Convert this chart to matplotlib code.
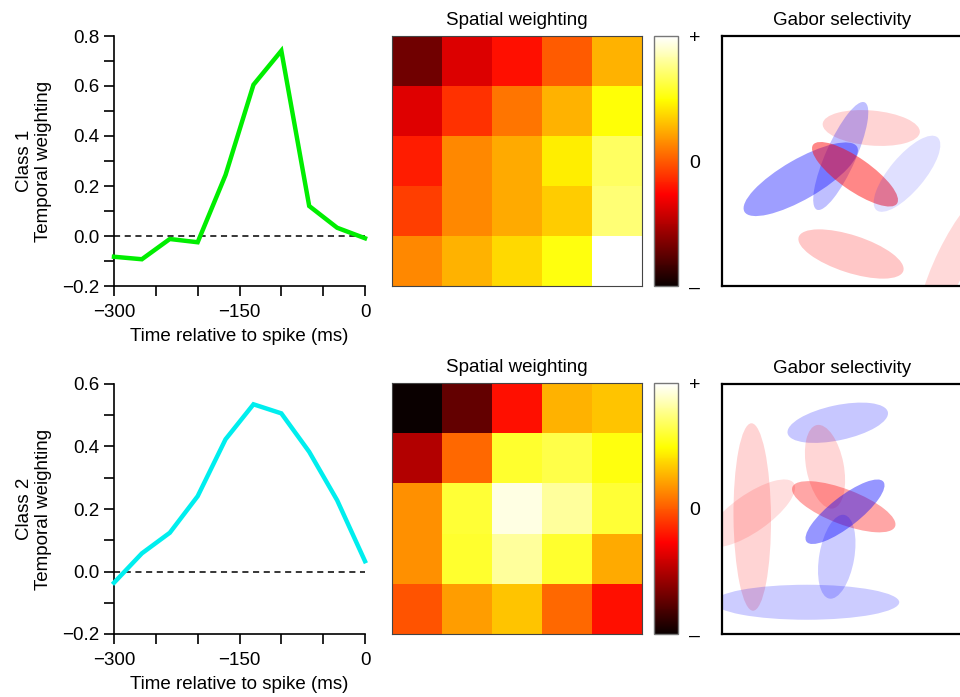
import numpy as np
import matplotlib
matplotlib.use("Agg")
import matplotlib.pyplot as plt
from matplotlib.patches import Ellipse
from matplotlib.ticker import MultipleLocator

plt.rcParams['font.family'] = ['Liberation Sans', 'DejaVu Sans']

# temporal weighting (time relative to spike, ms)
times = [-300, -266.7, -233.3, -200, -166.7, -133.3, -100, -66.7, -33.3, 0]
class1_temporal = [-0.083, -0.093, -0.012, -0.025, 0.244, 0.605, 0.741, 0.120, 0.033, -0.009]
class2_temporal = [-0.036, 0.058, 0.124, 0.241, 0.423, 0.535, 0.506, 0.383, 0.228, 0.033]

# spatial weighting, 5x5, scaled to [-1, 1]
class1_spatial = [
    [-0.69, -0.37, -0.22, 0.00, 0.26],
    [-0.36, -0.12, 0.08, 0.26, 0.50],
    [-0.18, 0.14, 0.24, 0.44, 0.68],
    [-0.08, 0.14, 0.24, 0.34, 0.72],
    [0.14, 0.26, 0.38, 0.52, 1.00],
]
class2_spatial = [
    [-1.00, -0.73, -0.22, 0.26, 0.32],
    [-0.50, 0.04, 0.58, 0.64, 0.52],
    [0.16, 0.60, 0.94, 0.80, 0.60],
    [0.16, 0.58, 0.80, 0.58, 0.24],
    [-0.02, 0.20, 0.32, 0.04, -0.22],
]

# gabor selectivity ellipses: centre (x, y), length, width, angle (deg), sign, strength
g1_x = [0.597, 0.475, 0.315, 0.532, 0.740, 0.516, 0.925]
g1_y = [0.632, 0.520, 0.427, 0.447, 0.449, 0.128, 0.110]
g1_len = [0.39, 0.47, 0.52, 0.41, 0.38, 0.44, 0.56]
g1_wid = [0.14, 0.12, 0.16, 0.13, 0.14, 0.15, 0.13]
g1_ang = [-5, 66, 30, -35, 50, -18, 64]
g1_sign = [1, -1, -1, 1, -1, 1, 1]
g1_str = [0.17, 0.25, 0.38, 0.47, 0.12, 0.22, 0.15]

g2_x = [0.463, 0.121, 0.115, 0.412, 0.487, 0.492, 0.339, 0.459]
g2_y = [0.845, 0.468, 0.483, 0.669, 0.509, 0.489, 0.127, 0.309]
g2_len = [0.41, 0.75, 0.42, 0.34, 0.44, 0.39, 0.74, 0.34]
g2_wid = [0.14, 0.15, 0.15, 0.15, 0.14, 0.12, 0.14, 0.14]
g2_ang = [12, 90.5, 35, 101, -21, 38, 0, 80]
g2_sign = [-1, 1, 1, 1, 1, -1, -1, -1]
g2_str = [0.22, 0.17, 0.13, 0.16, 0.35, 0.41, 0.20, 0.20]

W, H = 960, 697
fig = plt.figure(figsize=(W / 100, H / 100), dpi=100)
FS = 13.5


def rect(x0, y0, x1, y1):
    return [x0 / W, 1 - y1 / H, (x1 - x0) / W, (y1 - y0) / H]


def temporal_panel(top, bottom, values, color, label, ymax):
    ax = fig.add_axes(rect(114, top, 365, bottom))
    ax.plot(times, values, color=color, lw=3.2, solid_joinstyle='miter', clip_on=False, zorder=3)
    ax.axhline(0, color='black', ls=(0, (4, 3)), lw=1.1)
    ax.set_xlim(-300, 0)
    ax.set_ylim(-0.2, ymax)
    ax.spines['top'].set_visible(False)
    ax.spines['right'].set_visible(False)
    ax.spines['left'].set_linewidth(1.2)
    ax.spines['bottom'].set_linewidth(1.2)
    ax.xaxis.set_minor_locator(MultipleLocator(50))
    ax.yaxis.set_minor_locator(MultipleLocator(0.1))
    ax.set_xticks([-300, -150, 0])
    ax.set_xticklabels(['\u2212300', '\u2212150', '0'])
    yt = np.arange(-0.2, ymax + 0.01, 0.2)
    ax.set_yticks(yt)
    ax.set_yticklabels(['\u22120.2' if v < -0.01 else '%.1f' % v for v in yt])
    ax.tick_params(which='both', direction='out', length=7, width=1.2, labelsize=FS)
    ax.tick_params(axis='x', pad=6)
    ax.set_xlabel('Time relative to spike (ms)', fontsize=FS, labelpad=5)
    ax.set_ylabel(label, fontsize=FS, labelpad=7)


def spatial_panel(top, bottom, values):
    ax = fig.add_axes(rect(392, top, 642, bottom))
    im = ax.imshow(values, cmap='hot', vmin=-1, vmax=1, aspect='auto', interpolation='nearest')
    ax.set_xticks([])
    ax.set_yticks([])
    for s in ax.spines.values():
        s.set_color('#444444')
        s.set_linewidth(0.8)
    ax.set_title('Spatial weighting', fontsize=FS, pad=8)
    cax = fig.add_axes(rect(654, top, 678, bottom))
    cb = fig.colorbar(im, cax=cax, ticks=[-1, 0, 1])
    cb.ax.set_yticklabels(['\u2013', '0', '+'], fontsize=FS + 0.5)
    cb.ax.tick_params(length=0, pad=8)
    cb.outline.set_edgecolor('#777777')
    cb.outline.set_linewidth(1.0)


def gabor_panel(top, bottom, xs, ys, lens, wids, angs, signs, strs):
    ax = fig.add_axes(rect(722, top, 972, bottom))
    for x, y, l, w, a, s, st in zip(xs, ys, lens, wids, angs, signs, strs):
        col = (1, 0, 0) if s > 0 else (0, 0, 1)
        ax.add_patch(Ellipse((x, y), l, w, angle=a, facecolor=col, alpha=st, edgecolor='none'))
    ax.set_xlim(0, 1)
    ax.set_ylim(0, 1)
    ax.set_xticks([])
    ax.set_yticks([])
    for s in ax.spines.values():
        s.set_linewidth(1.6)
    ax.set_title('Gabor selectivity', fontsize=FS, pad=8, x=0.48)


temporal_panel(36, 286, class1_temporal, '#00ee00', 'Class 1\nTemporal weighting', 0.8)
temporal_panel(384, 634, class2_temporal, '#00eeee', 'Class 2\nTemporal weighting', 0.6)
spatial_panel(36, 286, class1_spatial)
spatial_panel(383, 634, class2_spatial)
gabor_panel(36, 286, g1_x, g1_y, g1_len, g1_wid, g1_ang, g1_sign, g1_str)
gabor_panel(384, 634, g2_x, g2_y, g2_len, g2_wid, g2_ang, g2_sign, g2_str)

fig.savefig('out.png', dpi=100)
